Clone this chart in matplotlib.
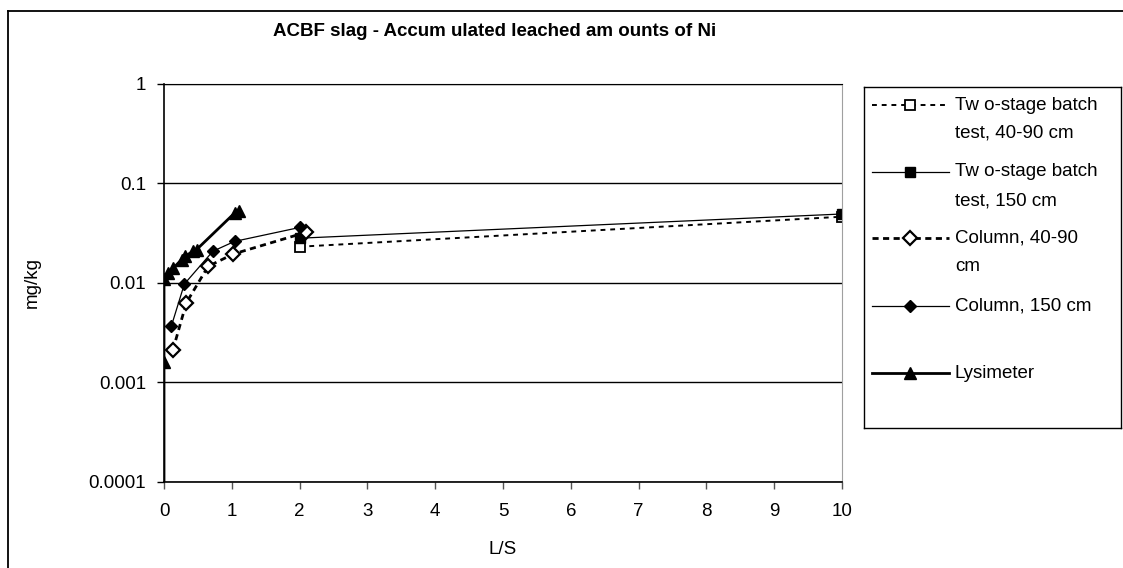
import matplotlib.pyplot as plt
from matplotlib.lines import Line2D
import numpy as np

plt.rcParams['font.family'] = ['Liberation Sans', 'DejaVu Sans']

# accumulated leached Ni (mg/kg) vs L/S
batch_4090_x = [2, 10]
batch_4090_y = [0.023, 0.046]
batch_150_x = [2, 10]
batch_150_y = [0.028, 0.049]
col_4090_x = [0.13, 0.33, 0.65, 1.02, 2.09]
col_4090_y = [0.0021, 0.0063, 0.0146, 0.0194, 0.032]
col_150_x = [0.11, 0.30, 0.72, 1.04, 2.01]
col_150_y = [0.0037, 0.0097, 0.0207, 0.026, 0.036]
lys_x = [0, 0, 0.0, 0.06, 0.14, 0.26, 0.31, 0.43, 0.48, 1.04, 1.11]
lys_y = [0.00001, 0.0016, 0.011, 0.0126, 0.0141, 0.0171, 0.0185, 0.0207, 0.0215, 0.050, 0.052]

labels = ["Tw o-stage batch\ntest, 40-90 cm",
          "Tw o-stage batch\ntest, 150 cm",
          "Column, 40-90\ncm",
          "Column, 150 cm",
          "Lysimeter"]

yticks = [0.0001, 0.001, 0.01, 0.1, 1]
ytick_labels = ["0.0001", "0.001", "0.01", "0.1", "1"]
xticks = list(range(0, 11))

W, H = 1123, 568
fig = plt.figure(figsize=(W / 100, H / 100), dpi=100)
ax = fig.add_axes([164 / W, 1 - 482 / H, 678 / W, 398.5 / H])

styles = [
    dict(color='black', lw=1.4, dashes=(2.5, 2.5), marker='s', ms=7, mfc='white', mec='black', mew=1.3),
    dict(color='black', lw=0.9, ls='-', marker='s', ms=7.5, mfc='black', mec='black'),
    dict(color='black', lw=2.0, dashes=(2.2, 1.6), marker='D', ms=7, mfc='white', mec='black', mew=1.6),
    dict(color='black', lw=0.9, ls='-', marker='D', ms=6, mfc='black', mec='black'),
    dict(color='black', lw=2.0, ls='-', marker='^', ms=8, mfc='black', mec='black'),
]
series = [(batch_4090_x, batch_4090_y), (batch_150_x, batch_150_y),
          (col_4090_x, col_4090_y), (col_150_x, col_150_y), (lys_x, lys_y)]

for (x, y), st in zip(series, styles):
    ax.plot(x, y, **st)

ax.set_yscale('log')
ax.set_ylim(0.0001, 1)
ax.set_xlim(0, 10)
ax.set_yticks(yticks)
ax.set_yticklabels(ytick_labels)
ax.yaxis.set_minor_locator(plt.NullLocator())
ax.set_xticks(xticks)
ax.tick_params(axis='both', labelsize=13.5, length=5, width=1, direction='out', color='black')
ax.tick_params(axis='y', pad=8)
ax.tick_params(axis='x', pad=10, color='#555555')
ax.grid(True, axis='y', color='black', lw=1)

for side in ['left', 'bottom']:
    ax.spines[side].set_color('black')
    ax.spines[side].set_linewidth(1.2)
ax.spines['right'].set_color('#a0a0a0')
ax.spines['top'].set_color('black')

ax.set_xlabel("L/S", fontsize=13.5)
ax.xaxis.set_label_coords(0.5, -0.148)
ax.set_ylabel("mg/kg", fontsize=13.5)
ax.yaxis.set_label_coords(-0.182, 0.5)

fig.text(495 / W, 1 - 31 / H, "ACBF slag - Accum ulated leached am ounts of Ni",
         ha='center', va='center', fontsize=13.5, fontweight='bold')

# outer chart frame (only top and left edges visible)
fig.add_artist(Line2D([8 / W, 8 / W], [0, 1 - 11 / H], color='black', lw=1.3))
fig.add_artist(Line2D([8 / W, 1], [1 - 11 / H, 1 - 11 / H], color='black', lw=1.3))

# legend box drawn by hand to mimic the spreadsheet layout
lax = fig.add_axes([864 / W, 1 - 428 / H, 257 / W, 341 / H])
lax.set_xlim(0, 257)
lax.set_ylim(341, 0)
lax.set_xticks([])
lax.set_yticks([])
for sp in lax.spines.values():
    sp.set_color('black')
    sp.set_linewidth(1)

row_y = [18, 85, 151, 219, 286]
for yy, st, lab in zip(row_y, styles, labels):
    lax.plot([8, 85], [yy, yy], **{k: v for k, v in st.items() if k not in ('marker', 'ms', 'mfc', 'mec', 'mew')})
    lax.plot([46], [yy], ls='none', **{k: v for k, v in st.items() if k in ('marker', 'ms', 'mfc', 'mec', 'mew')})
    for i, line in enumerate(lab.split('\n')):
        lax.text(91, yy + i * 28.5, line, fontsize=13.5, va='center', ha='left')

fig.savefig('out.png', dpi=100)
